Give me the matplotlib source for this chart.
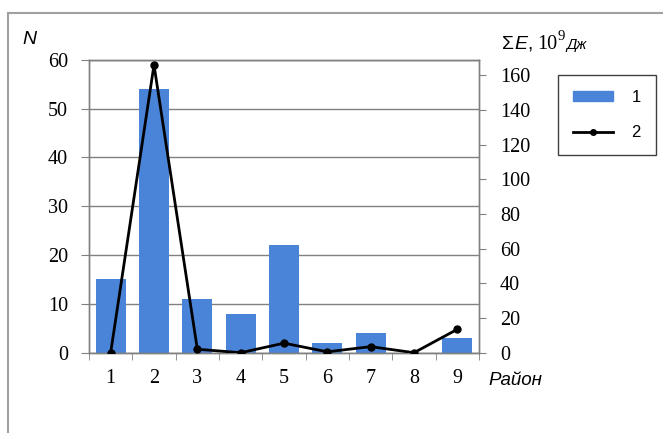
import matplotlib.pyplot as plt
from matplotlib.patches import Patch
from matplotlib.lines import Line2D

# районы, число событий N и суммарная энергия (10^9 Дж)
districts = [1, 2, 3, 4, 5, 6, 7, 8, 9]
counts = [15, 54, 11, 8, 22, 2, 4, 0, 3]
energy = [0, 166, 2, 0, 5.5, 0.5, 3.5, 0, 13.5]

bar_color = '#4a84d8'
gray = '#808080'
serif = 'Liberation Serif'
sans = 'Liberation Sans'

W, H = 663, 433
fig = plt.figure(figsize=(W / 100, H / 100), dpi=100)
ax = fig.add_axes([89 / W, 1 - 352.7 / H, 390 / W, 293 / H])
ax2 = ax.twinx()

ax.bar(districts, counts, width=0.69, color=bar_color, zorder=2)
ax.set_xlim(0.5, 9.5)
ax.set_ylim(0, 60)
ax.set_yticks(range(0, 61, 10))
ax.set_axisbelow(True)
ax.yaxis.grid(True, color=gray, lw=1)

ax.set_xticks(districts)
ax.set_xticks([d + 0.5 for d in range(0, 10)], minor=True)
ax.tick_params(axis='x', which='major', length=0, pad=12)
ax.tick_params(axis='x', which='minor', length=5, color=gray, direction='out')
ax.tick_params(axis='y', length=6, color=gray, pad=9)

ax2.plot(districts, energy, color='black', lw=2, marker='o', ms=5, zorder=3)
ax2.set_ylim(0, 169)
ax2.set_yticks(range(0, 161, 20))
ax2.tick_params(axis='y', length=5, color=gray, pad=10)

for a in (ax, ax2):
    for s in a.spines.values():
        s.set_color(gray)
        s.set_linewidth(1)
    for lab in a.get_xticklabels() + a.get_yticklabels():
        lab.set_fontfamily(serif)
        lab.set_fontsize(14.5)

# подписи осей
fig.text(22 / W, 1 - 44 / H, 'N', family=sans, style='italic', size=14, va='baseline')
fig.text(488 / W, 1 - 385 / H, 'Район', family=sans, style='italic', size=13.5, va='baseline')

yb = 1 - 49 / H
fig.text(502 / W, yb, 'Σ', family=sans, size=14, va='baseline')
fig.text(514 / W, yb, 'E', family=sans, style='italic', size=14, va='baseline')
fig.text(527 / W, yb, ',', family=sans, size=14, va='baseline')
fig.text(537 / W, yb, '10', family=serif, size=14.5, va='baseline')
fig.text(558 / W, 1 - 40 / H, '9', family=serif, size=10.5, va='baseline')
fig.text(566 / W, yb, 'Дж', family=sans, style='italic', size=10.5, va='baseline')

handles = [Patch(color=bar_color),
           Line2D([], [], color='black', lw=2, marker='o', ms=4)]
leg = fig.legend(handles, ['1', '2'], loc='upper left',
                 bbox_to_anchor=(558 / W, 1 - 75 / H), borderaxespad=0,
                 fancybox=False, edgecolor='#404040', framealpha=1,
                 prop={'family': sans, 'size': 12},
                 handlelength=2.4, handleheight=0.55, handletextpad=1.1,
                 labelspacing=1.2, borderpad=0.9)
leg.get_frame().set_linewidth(1)

# рамка рисунка
fig.add_artist(Line2D([8 / W, 8 / W], [0, 1 - 13 / H], color='#a0a0a0', lw=1.5))
fig.add_artist(Line2D([8 / W, 1], [1 - 13 / H, 1 - 13 / H], color='#a0a0a0', lw=1.5))

fig.savefig('out.png', dpi=100)
